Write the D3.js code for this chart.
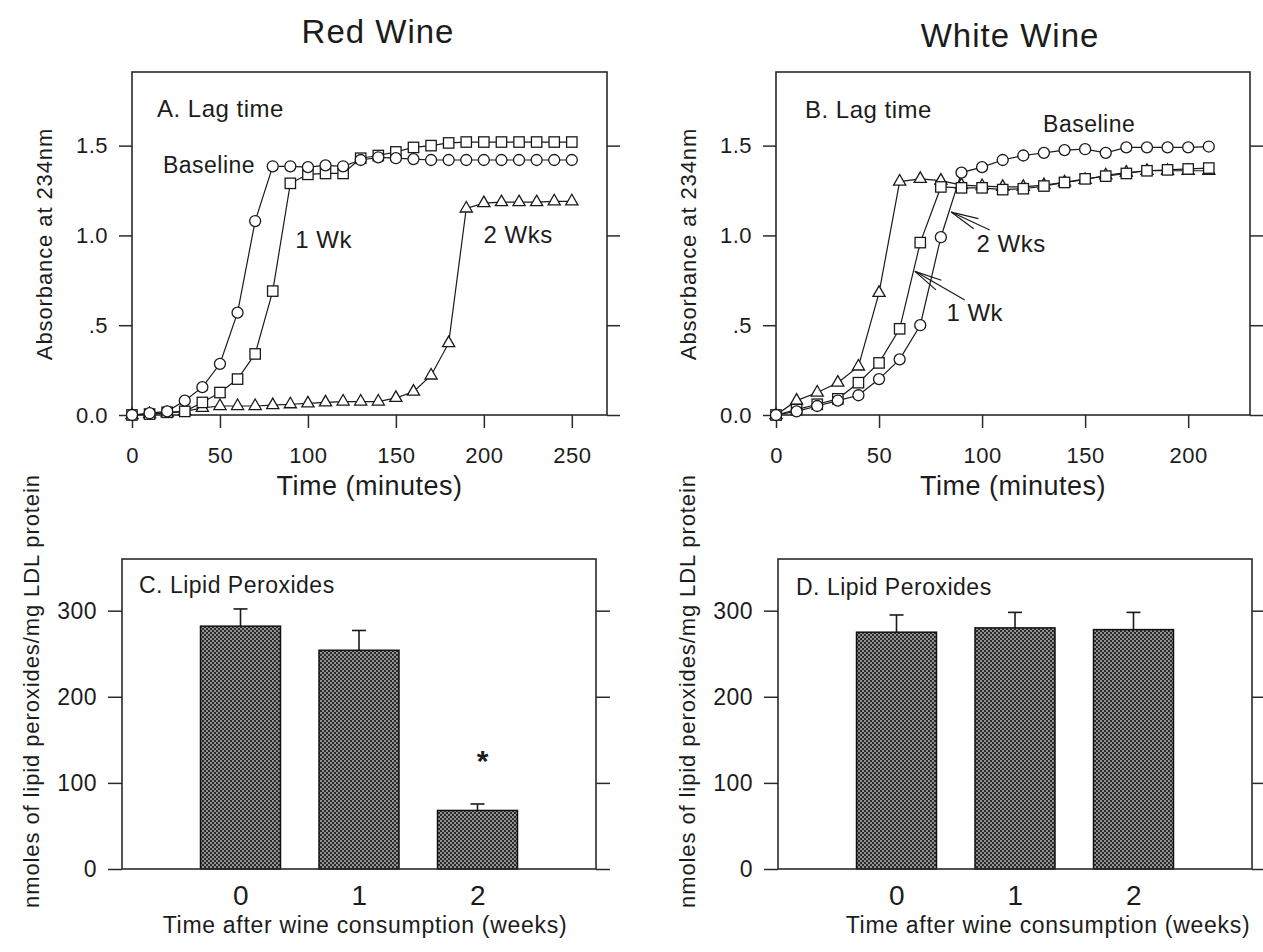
<!DOCTYPE html>
<html>
<head>
<meta charset="utf-8">
<script src="https://cdn.jsdelivr.net/npm/d3@7"></script>
<style>
  body { margin: 0; background: #fff; }
  svg text { fill: #1c1c1c; }
</style>
</head>
<body>
<div id="plot"></div>
<script>
// ---- data ----
var redTimes = [0,10,20,30,40,50,60,70,80,90,100,110,120,130,140,150,160,170,180,190,200,210,220,230,240,250];
var redBaseline = [0,0.01,0.02,0.08,0.155,0.285,0.57,1.08,1.385,1.385,1.38,1.39,1.385,1.42,1.435,1.43,1.425,1.42,1.42,1.42,1.42,1.42,1.42,1.42,1.42,1.42];
var redWeek1 = [0,0.005,0.015,0.02,0.07,0.125,0.2,0.34,0.69,1.29,1.34,1.345,1.345,1.43,1.445,1.465,1.49,1.5,1.515,1.52,1.52,1.52,1.52,1.52,1.52,1.52];
var redWeek2 = [0,0.005,0.01,0.02,0.04,0.05,0.05,0.05,0.055,0.06,0.065,0.07,0.075,0.075,0.075,0.095,0.13,0.22,0.4,1.15,1.18,1.185,1.185,1.185,1.19,1.19];

var whiteTimes = [0,10,20,30,40,50,60,70,80,90,100,110,120,130,140,150,160,170,180,190,200,210];
var whiteBaseline = [0,0.02,0.05,0.08,0.11,0.2,0.31,0.5,0.99,1.35,1.38,1.42,1.445,1.46,1.475,1.48,1.46,1.49,1.49,1.49,1.49,1.495];
var whiteWeek1 = [0,0.03,0.06,0.09,0.18,0.29,0.48,0.96,1.27,1.265,1.265,1.255,1.26,1.275,1.295,1.315,1.33,1.345,1.36,1.365,1.37,1.375];
var whiteWeek2 = [0,0.08,0.125,0.18,0.27,0.68,1.3,1.315,1.305,1.28,1.275,1.27,1.27,1.28,1.295,1.31,1.335,1.35,1.36,1.36,1.36,1.36];

var weeks = [0, 1, 2];
var redPerox = [282, 254, 68];
var redPeroxErr = [20, 23, 7.5];
var whitePerox = [275, 280, 278];
var whitePeroxErr = [20, 18, 20];

var absTicks = [0, 0.5, 1.0, 1.5];
var absTickLabels = ["0.0", ".5", "1.0", "1.5"];
var redTimeTicks = [0, 50, 100, 150, 200, 250];
var whiteTimeTicks = [0, 50, 100, 150, 200];
var peroxTicks = [0, 100, 200, 300];

// ---- layout ----
var W = 1263, H = 952;
var FONT = '"Liberation Sans", Arial, Helvetica, sans-serif';
var boxA = {left: 132, right: 607, top: 72, bottom: 415};
var boxB = {left: 776, right: 1250, top: 72, bottom: 415};
var boxC = {left: 122, right: 596, top: 559, bottom: 869};
var boxD = {left: 778, right: 1252, top: 559, bottom: 869};

var svg = d3.select("#plot").append("svg")
    .attr("width", W)
    .attr("height", H)
    .style("font-family", FONT);

// dotted fill used by the bars
var pat = svg.append("defs").append("pattern")
    .attr("id", "dots")
    .attr("patternUnits", "userSpaceOnUse")
    .attr("width", 4).attr("height", 4);
pat.append("rect").attr("width", 4).attr("height", 4).attr("fill", "#2a2a2a");
pat.append("circle").attr("cx", 1).attr("cy", 1).attr("r", 0.9).attr("fill", "#c4c4c4");
pat.append("circle").attr("cx", 3).attr("cy", 3).attr("r", 0.9).attr("fill", "#c4c4c4");

function styleAxis(sel, fs) {
  sel.attr("font-family", FONT);
  sel.select(".domain").remove();
  sel.selectAll(".tick line").attr("stroke", "#2a2a2a").attr("stroke-width", 1.5);
  sel.selectAll(".tick text")
    .attr("fill", "#1c1c1c")
    .style("font-size", fs + "px")
    .style("letter-spacing", "0.5px");
}

function addText(x, y, txt, size, anchor, spacing) {
  return svg.append("text")
    .attr("x", x).attr("y", y)
    .attr("text-anchor", anchor || "start")
    .style("font-size", size + "px")
    .style("letter-spacing", (spacing || 0) + "px")
    .text(txt);
}

function frame(box) {
  svg.append("rect")
    .attr("x", box.left).attr("y", box.top)
    .attr("width", box.right - box.left)
    .attr("height", box.bottom - box.top)
    .attr("fill", "none")
    .attr("stroke", "#2a2a2a")
    .attr("stroke-width", 1.6);
}

// line panels (A, B)
function lagPanel(box, xMax, times, timeTicks, series) {
  var x = d3.scaleLinear().domain([0, xMax]).range([box.left, box.right]);
  var y = d3.scaleLinear().domain([0, 1.91]).range([box.bottom, box.top]);

  svg.append("g").attr("transform", "translate(" + box.left + ",0)")
    .call(d3.axisLeft(y).tickValues(absTicks).tickSize(13).tickPadding(11)
      .tickFormat(function(d, i) { return absTickLabels[i]; }))
    .call(styleAxis, 22);
  svg.append("g").attr("transform", "translate(" + box.right + ",0)")
    .call(d3.axisRight(y).tickValues(absTicks).tickSize(13).tickFormat(""))
    .call(styleAxis, 22);
  svg.append("g").attr("transform", "translate(0," + box.bottom + ")")
    .call(d3.axisBottom(x).tickValues(timeTicks).tickSize(13).tickPadding(19))
    .call(styleAxis, 22);

  frame(box);

  var line = d3.line()
    .x(function(d, i) { return x(times[i]); })
    .y(function(d) { return y(d); });

  series.forEach(function(s) {
    svg.append("path")
      .datum(s.values)
      .attr("d", line)
      .attr("fill", "none")
      .attr("stroke", "#1a1a1a")
      .attr("stroke-width", 1.2);
  });

  series.forEach(function(s) {
    var g = svg.append("g")
      .attr("fill", "#fff")
      .attr("stroke", "#1a1a1a")
      .attr("stroke-width", 1.3);
    var pts = s.values.map(function(v, i) { return {t: times[i], v: v}; });
    if (s.shape === "circle") {
      g.selectAll("circle").data(pts).enter().append("circle")
        .attr("cx", function(d) { return x(d.t); })
        .attr("cy", function(d) { return y(d.v); })
        .attr("r", 5.5);
    } else if (s.shape === "square") {
      g.selectAll("rect").data(pts).enter().append("rect")
        .attr("x", function(d) { return x(d.t) - 5.2; })
        .attr("y", function(d) { return y(d.v) - 5.2; })
        .attr("width", 10.4).attr("height", 10.4);
    } else {
      g.selectAll("path").data(pts).enter().append("path")
        .attr("d", d3.symbol().type(d3.symbolTriangle).size(64))
        .attr("transform", function(d) { return "translate(" + x(d.t) + "," + y(d.v) + ")"; });
    }
  });

  addText((box.left + box.right) / 2, 495, "Time (minutes)", 27, "middle", 0.5);
  return {x: x, y: y};
}

// bar panels (C, D)
function peroxPanel(box, values, errs) {
  var x = d3.scaleLinear().domain([-1, 3]).range([box.left, box.right]);
  var y = d3.scaleLinear().domain([0, 360]).range([box.bottom, box.top]);
  var bw = x(0.675) - x(0);

  svg.append("g").attr("transform", "translate(" + box.left + ",0)")
    .call(d3.axisLeft(y).tickValues(peroxTicks).tickSize(14).tickPadding(11))
    .call(styleAxis, 23);
  svg.append("g").attr("transform", "translate(" + box.right + ",0)")
    .call(d3.axisRight(y).tickValues(peroxTicks).tickSize(14).tickFormat(""))
    .call(styleAxis, 23);
  svg.append("g").attr("transform", "translate(0," + box.bottom + ")")
    .call(d3.axisBottom(x).tickValues(weeks).tickSize(0).tickPadding(16).tickFormat(d3.format("d")))
    .call(styleAxis, 28);

  // error bars (upper only)
  var eg = svg.append("g").attr("stroke", "#1a1a1a").attr("stroke-width", 1.6);
  eg.selectAll(".stem").data(weeks).enter().append("line")
    .attr("x1", function(d) { return x(d); })
    .attr("x2", function(d) { return x(d); })
    .attr("y1", function(d, i) { return y(values[i]); })
    .attr("y2", function(d, i) { return y(values[i] + errs[i]); });
  eg.selectAll(".cap").data(weeks).enter().append("line")
    .attr("x1", function(d) { return x(d) - 7; })
    .attr("x2", function(d) { return x(d) + 7; })
    .attr("y1", function(d, i) { return y(values[i] + errs[i]); })
    .attr("y2", function(d, i) { return y(values[i] + errs[i]); });

  svg.append("g").selectAll("rect").data(weeks).enter().append("rect")
    .attr("x", function(d) { return x(d) - bw / 2; })
    .attr("y", function(d, i) { return y(values[i]); })
    .attr("width", bw)
    .attr("height", function(d, i) { return y(0) - y(values[i]); })
    .attr("fill", "url(#dots)")
    .attr("stroke", "#111")
    .attr("stroke-width", 1.5);

  frame(box);
  return {x: x, y: y};
}

// ---- panel A ----
var a = lagPanel(boxA, 270, redTimes, redTimeTicks, [
  {values: redWeek2, shape: "triangle"},
  {values: redWeek1, shape: "square"},
  {values: redBaseline, shape: "circle"}
]);
addText(157, 117, "A. Lag time", 24, "start", 0.5);
addText(a.x(70), a.y(1.346), "Baseline", 23, "end", 0.5);
addText(a.x(92.8), a.y(0.93), "1 Wk", 24, "start", 0.5);
addText(a.x(199.8), a.y(0.957), "2 Wks", 24, "start", 0.5);

// ---- panel B ----
var b = lagPanel(boxB, 230, whiteTimes, whiteTimeTicks, [
  {values: whiteWeek2, shape: "triangle"},
  {values: whiteWeek1, shape: "square"},
  {values: whiteBaseline, shape: "circle"}
]);
addText(805, 118, "B. Lag time", 24, "start", 0.5);
addText(b.x(129.6), b.y(1.577), "Baseline", 23, "start", 0.5);
addText(b.x(97.3), b.y(0.91), "2 Wks", 24, "start", 0.5);
addText(b.x(82.7), b.y(0.526), "1 Wk", 24, "start", 0.5);

// open arrows pointing at the curves
function arrow(tx, ty, ex, ey) {
  var ang = Math.atan2(ey - ty, ex - tx);
  var g = svg.append("g").attr("stroke", "#1a1a1a").attr("stroke-width", 1.2).attr("fill", "none");
  g.append("line").attr("x1", tx).attr("y1", ty).attr("x2", ex).attr("y2", ey);
  [-0.2, 0.2].forEach(function(da) {
    g.append("line")
      .attr("x1", tx).attr("y1", ty)
      .attr("x2", tx + 28 * Math.cos(ang + da))
      .attr("y2", ty + 28 * Math.sin(ang + da));
  });
}
arrow(b.x(85), b.y(1.13), b.x(103.7), b.y(1.03));
arrow(b.x(67.4), b.y(0.80), b.x(91.6), b.y(0.64));

// ---- panel C ----
var c = peroxPanel(boxC, redPerox, redPeroxErr);
addText(139, 593, "C. Lipid Peroxides", 23, "start", 0.5);
svg.append("text")
  .attr("x", c.x(2) + 5).attr("y", c.y(114))
  .attr("text-anchor", "middle")
  .style("font-size", "30px")
  .style("font-weight", "bold")
  .text("*");
addText((boxC.left + boxC.right) / 2 + 6, 933, "Time after wine consumption (weeks)", 23, "middle", 0.7);

// ---- panel D ----
peroxPanel(boxD, whitePerox, whitePeroxErr);
addText(796, 595, "D. Lipid Peroxides", 23, "start", 0.5);
addText(1048, 933, "Time after wine consumption (weeks)", 23, "middle", 0.7);

// ---- titles ----
addText(378, 43, "Red Wine", 33, "middle", 1);
addText(1010, 47, "White Wine", 33, "middle", 1);

function yTitle(x, y, txt) {
  svg.append("text")
    .attr("transform", "translate(" + x + "," + y + ") rotate(-90)")
    .attr("text-anchor", "middle")
    .style("font-size", "22px")
    .style("letter-spacing", "0.9px")
    .text(txt);
}
yTitle(52, 244, "Absorbance at 234nm");
yTitle(696, 244, "Absorbance at 234nm");
yTitle(39, 691, "nmoles of lipid peroxides/mg LDL protein");
yTitle(695, 691, "nmoles of lipid peroxides/mg LDL protein");
</script>
</body>
</html>
